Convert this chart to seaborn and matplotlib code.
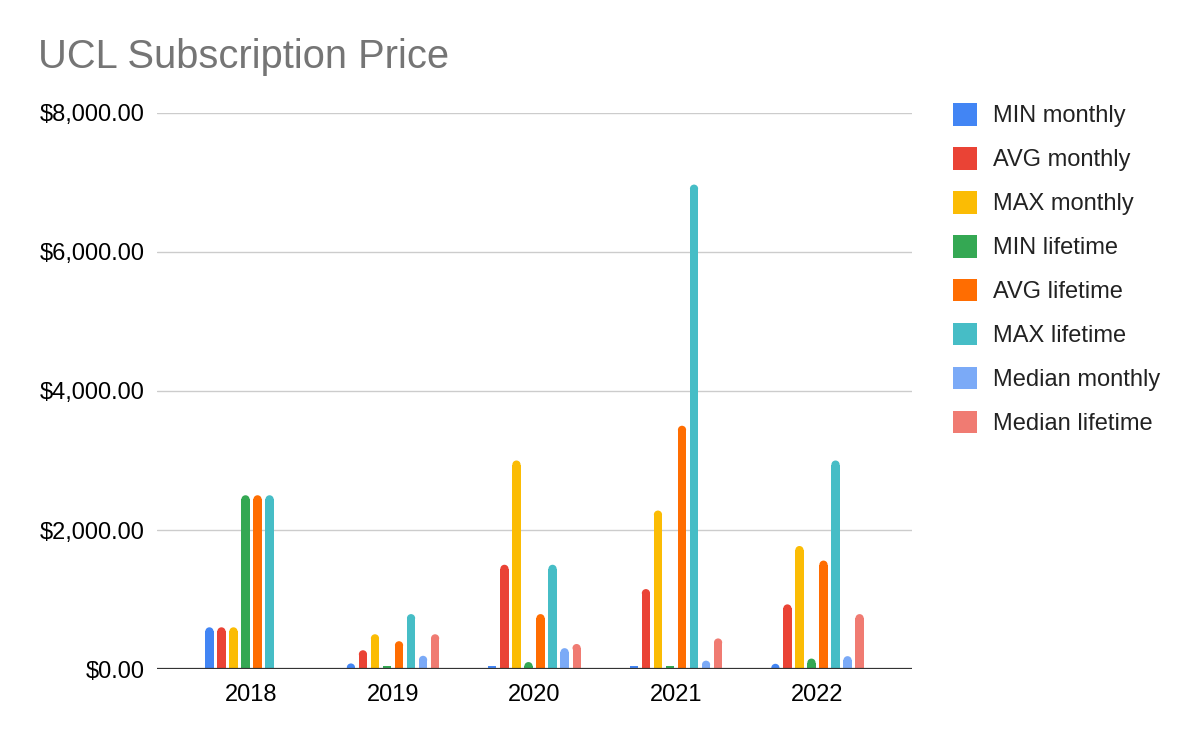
import numpy as np
import pandas as pd
import matplotlib
matplotlib.use('Agg')
import matplotlib.pyplot as plt
from matplotlib.patches import Ellipse, Patch
from matplotlib.ticker import FuncFormatter
import seaborn as sns

# dados
anos = ['2018', '2019', '2020', '2021', '2022']
series = ['MIN monthly', 'AVG monthly', 'MAX monthly', 'MIN lifetime',
          'AVG lifetime', 'MAX lifetime', 'Median monthly', 'Median lifetime']
min_monthly = [600, 80, 50, 50, 75]
avg_monthly = [600, 270, 1500, 1150, 930]
max_monthly = [600, 500, 3000, 2280, 1770]
min_lifetime = [2500, 50, 100, 50, 150]
avg_lifetime = [2500, 400, 790, 3500, 1560]
max_lifetime = [2500, 790, 1500, 6970, 3000]
median_monthly = [np.nan, 190, 300, 120, 185]
median_lifetime = [np.nan, 500, 360, 440, 790]
cores = ['#4285F4', '#EA4335', '#FBBC04', '#34A853',
         '#FF6D01', '#46BDC6', '#7BAAF7', '#F07B72']

valores = [min_monthly, avg_monthly, max_monthly, min_lifetime,
           avg_lifetime, max_lifetime, median_monthly, median_lifetime]
linhas = []
for nome, vals in zip(series, valores):
    for ano, v in zip(anos, vals):
        linhas.append({'Ano': ano, 'Serie': nome, 'Preco': v})
df = pd.DataFrame(linhas)

sns.set_style('white')
plt.rcParams['font.family'] = ['Liberation Sans', 'DejaVu Sans']

fig = plt.figure(figsize=(12, 7.42), dpi=100)
ax = fig.add_axes([157 / 1200, 1 - 669 / 742, 755 / 1200, 556 / 742])

sns.barplot(data=df, x='Ano', y='Preco', hue='Serie', hue_order=series,
            palette=cores, width=0.68, gap=0.32, order=anos,
            legend=False, ax=ax, errorbar=None, saturation=1,
            linewidth=0, edgecolor='none')

ymax = 8000
ax.set_ylim(0, ymax)
ax.set_xlim(-0.668, 4.668)

# topo arredondado das barras
raio = 4 * ymax / 556.0
for p in list(ax.patches):
    p.set_linewidth(0)
    h = p.get_height()
    if np.isnan(h) or h <= raio:
        continue
    x, w = p.get_x(), p.get_width()
    p.set_height(h - raio)
    cap = Ellipse((x + w / 2, h - raio), w, 2 * raio,
                  facecolor=p.get_facecolor(), linewidth=0)
    ax.add_patch(cap)

ax.set_yticks([0, 2000, 4000, 6000, 8000])
ax.yaxis.set_major_formatter(FuncFormatter(lambda v, _: f'${v:,.2f}'))
ax.grid(axis='y', color='#cccccc', linewidth=1)
ax.set_axisbelow(True)
ax.axhline(0, color='#333333', linewidth=1.6, zorder=5)
for s in ax.spines.values():
    s.set_visible(False)
ax.tick_params(axis='both', length=0, labelsize=17, colors='#000000')
ax.tick_params(axis='y', pad=9)
ax.tick_params(axis='x', pad=11)
ax.set_xlabel('')
ax.set_ylabel('')

fig.text(38 / 1200, 1 - 57 / 742, 'UCL Subscription Price', fontsize=28.7,
         color='#757575', va='center', ha='left')

handles = [Patch(facecolor=c, edgecolor='none') for c in cores]
fig.legend(handles, series, loc='upper left',
           bbox_to_anchor=(953 / 1200, 1 - 103 / 742), frameon=False,
           fontsize=17, handlelength=1.0, handleheight=1.1,
           handletextpad=0.68, labelspacing=0.83, borderpad=0,
           borderaxespad=0, labelcolor='#222222')

fig.savefig('out.png', dpi=100)
